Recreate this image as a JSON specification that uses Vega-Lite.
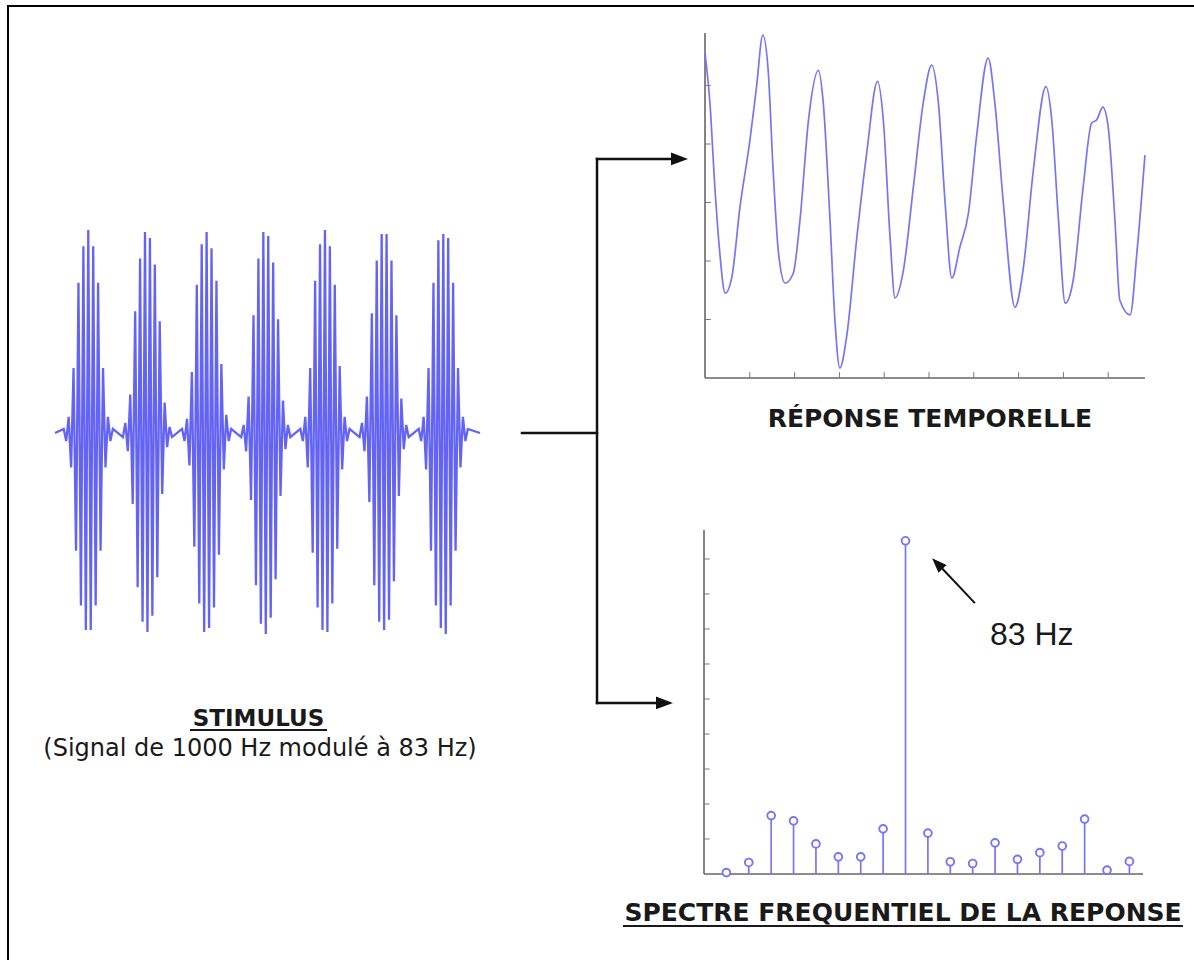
{
"$schema": "https://vega.github.io/schema/vega-lite/v6.json",
"width": 1194, "height": 960, "padding": 0, "autosize": "none",
"background": "white",
"config": {"view": {"stroke": null}},
"datasets": {
"stimulus": [
{"time_ms":0,"amplitude":0},
{"time_ms":1.78,"amplitude":0.02},{"time_ms":2.28,"amplitude":-0.04},{"time_ms":2.78,"amplitude":0.08},{"time_ms":3.28,"amplitude":-0.17},{"time_ms":3.78,"amplitude":0.32},{"time_ms":4.28,"amplitude":-0.58},{"time_ms":4.78,"amplitude":0.74},{"time_ms":5.28,"amplitude":-0.85},{"time_ms":5.78,"amplitude":0.92},{"time_ms":6.28,"amplitude":-0.97},{"time_ms":6.78,"amplitude":1.0},{"time_ms":7.28,"amplitude":-0.97},{"time_ms":7.78,"amplitude":0.92},{"time_ms":8.28,"amplitude":-0.85},{"time_ms":8.78,"amplitude":0.74},{"time_ms":9.28,"amplitude":-0.58},{"time_ms":9.78,"amplitude":0.32},{"time_ms":10.28,"amplitude":-0.17},{"time_ms":10.78,"amplitude":0.08},{"time_ms":11.28,"amplitude":-0.04},{"time_ms":11.78,"amplitude":0.02},
{"time_ms":13.83,"amplitude":-0.02},{"time_ms":14.33,"amplitude":0.05},{"time_ms":14.83,"amplitude":-0.09},{"time_ms":15.33,"amplitude":0.19},{"time_ms":15.83,"amplitude":-0.35},{"time_ms":16.33,"amplitude":0.6},{"time_ms":16.83,"amplitude":-0.76},{"time_ms":17.33,"amplitude":0.86},{"time_ms":17.83,"amplitude":-0.93},{"time_ms":18.33,"amplitude":0.99},{"time_ms":18.83,"amplitude":-0.98},{"time_ms":19.33,"amplitude":0.96},{"time_ms":19.83,"amplitude":-0.9},{"time_ms":20.33,"amplitude":0.83},{"time_ms":20.83,"amplitude":-0.71},{"time_ms":21.33,"amplitude":0.55},{"time_ms":21.83,"amplitude":-0.3},{"time_ms":22.33,"amplitude":0.15},{"time_ms":22.83,"amplitude":-0.07},{"time_ms":23.33,"amplitude":0.03},{"time_ms":23.83,"amplitude":-0.02},
{"time_ms":25.88,"amplitude":0.02},{"time_ms":26.38,"amplitude":-0.04},{"time_ms":26.88,"amplitude":0.07},{"time_ms":27.38,"amplitude":-0.16},{"time_ms":27.88,"amplitude":0.3},{"time_ms":28.38,"amplitude":-0.56},{"time_ms":28.88,"amplitude":0.73},{"time_ms":29.38,"amplitude":-0.84},{"time_ms":29.88,"amplitude":0.93},{"time_ms":30.38,"amplitude":-0.98},{"time_ms":30.88,"amplitude":0.99},{"time_ms":31.38,"amplitude":-0.96},{"time_ms":31.88,"amplitude":0.91},{"time_ms":32.38,"amplitude":-0.86},{"time_ms":32.88,"amplitude":0.75},{"time_ms":33.38,"amplitude":-0.6},{"time_ms":33.88,"amplitude":0.34},{"time_ms":34.38,"amplitude":-0.18},{"time_ms":34.88,"amplitude":0.09},{"time_ms":35.38,"amplitude":-0.04},{"time_ms":35.88,"amplitude":0.02},
{"time_ms":37.93,"amplitude":-0.02},{"time_ms":38.43,"amplitude":0.04},{"time_ms":38.93,"amplitude":-0.09},{"time_ms":39.43,"amplitude":0.18},{"time_ms":39.93,"amplitude":-0.33},{"time_ms":40.43,"amplitude":0.58},{"time_ms":40.93,"amplitude":-0.75},{"time_ms":41.43,"amplitude":0.86},{"time_ms":41.93,"amplitude":-0.94},{"time_ms":42.43,"amplitude":0.99},{"time_ms":42.93,"amplitude":-0.99},{"time_ms":43.43,"amplitude":0.97},{"time_ms":43.93,"amplitude":-0.91},{"time_ms":44.43,"amplitude":0.84},{"time_ms":44.93,"amplitude":-0.72},{"time_ms":45.43,"amplitude":0.56},{"time_ms":45.93,"amplitude":-0.31},{"time_ms":46.43,"amplitude":0.16},{"time_ms":46.93,"amplitude":-0.08},{"time_ms":47.43,"amplitude":0.04},{"time_ms":47.93,"amplitude":-0.02},
{"time_ms":49.98,"amplitude":0.02},{"time_ms":50.48,"amplitude":-0.04},{"time_ms":50.98,"amplitude":0.08},{"time_ms":51.48,"amplitude":-0.17},{"time_ms":51.98,"amplitude":0.32},{"time_ms":52.48,"amplitude":-0.59},{"time_ms":52.98,"amplitude":0.75},{"time_ms":53.48,"amplitude":-0.86},{"time_ms":53.98,"amplitude":0.93},{"time_ms":54.48,"amplitude":-0.97},{"time_ms":54.98,"amplitude":1.0},{"time_ms":55.48,"amplitude":-0.98},{"time_ms":55.98,"amplitude":0.92},{"time_ms":56.48,"amplitude":-0.84},{"time_ms":56.98,"amplitude":0.73},{"time_ms":57.48,"amplitude":-0.57},{"time_ms":57.98,"amplitude":0.33},{"time_ms":58.48,"amplitude":-0.18},{"time_ms":58.98,"amplitude":0.08},{"time_ms":59.48,"amplitude":-0.04},{"time_ms":59.98,"amplitude":0.02},
{"time_ms":62.03,"amplitude":-0.02},{"time_ms":62.53,"amplitude":0.05},{"time_ms":63.03,"amplitude":-0.09},{"time_ms":63.53,"amplitude":0.18},{"time_ms":64.03,"amplitude":-0.34},{"time_ms":64.53,"amplitude":0.59},{"time_ms":65.03,"amplitude":-0.75},{"time_ms":65.53,"amplitude":0.85},{"time_ms":66.03,"amplitude":-0.93},{"time_ms":66.53,"amplitude":0.98},{"time_ms":67.03,"amplitude":-0.97},{"time_ms":67.53,"amplitude":0.98},{"time_ms":68.03,"amplitude":-0.92},{"time_ms":68.53,"amplitude":0.85},{"time_ms":69.03,"amplitude":-0.73},{"time_ms":69.53,"amplitude":0.58},{"time_ms":70.03,"amplitude":-0.31},{"time_ms":70.53,"amplitude":0.17},{"time_ms":71.03,"amplitude":-0.08},{"time_ms":71.53,"amplitude":0.04},{"time_ms":72.03,"amplitude":-0.02},
{"time_ms":74.08,"amplitude":0.02},{"time_ms":74.58,"amplitude":-0.04},{"time_ms":75.08,"amplitude":0.08},{"time_ms":75.58,"amplitude":-0.18},{"time_ms":76.08,"amplitude":0.32},{"time_ms":76.58,"amplitude":-0.58},{"time_ms":77.08,"amplitude":0.74},{"time_ms":77.58,"amplitude":-0.85},{"time_ms":78.08,"amplitude":0.95},{"time_ms":78.58,"amplitude":-0.96},{"time_ms":79.08,"amplitude":0.98},{"time_ms":79.58,"amplitude":-0.99},{"time_ms":80.08,"amplitude":0.96},{"time_ms":80.58,"amplitude":-0.85},{"time_ms":81.08,"amplitude":0.74},{"time_ms":81.58,"amplitude":-0.58},{"time_ms":82.08,"amplitude":0.32},{"time_ms":82.58,"amplitude":-0.17},{"time_ms":83.08,"amplitude":0.08},{"time_ms":83.58,"amplitude":-0.04},{"time_ms":84.08,"amplitude":0.02},
{"time_ms":86.56,"amplitude":0}
],
"response": [
{"time":0.0,"value":5.56},{"time":0.11,"value":4.70},{"time":0.22,"value":3.26},{"time":0.33,"value":2.14},{"time":0.45,"value":1.45},{"time":0.60,"value":1.73},{"time":0.78,"value":2.92},{"time":1.00,"value":4.05},{"time":1.15,"value":4.98},{"time":1.29,"value":5.86},
{"time":1.41,"value":5.26},{"time":1.52,"value":3.56},{"time":1.64,"value":2.14},{"time":1.79,"value":1.62},{"time":1.97,"value":1.79},{"time":2.12,"value":2.70},{"time":2.31,"value":4.41},{"time":2.53,"value":5.26},{"time":2.64,"value":4.70},{"time":2.79,"value":2.70},
{"time":2.90,"value":0.99},{"time":3.01,"value":0.17},{"time":3.16,"value":0.70},{"time":3.39,"value":2.41},{"time":3.61,"value":3.85},{"time":3.85,"value":5.07},{"time":3.98,"value":4.41},{"time":4.13,"value":2.41},{"time":4.24,"value":1.37},{"time":4.43,"value":1.85},
{"time":4.65,"value":3.26},{"time":4.87,"value":4.70},{"time":5.06,"value":5.35},{"time":5.21,"value":4.70},{"time":5.36,"value":2.99},{"time":5.51,"value":1.71},{"time":5.69,"value":2.24},{"time":5.88,"value":2.82},{"time":6.06,"value":4.12},{"time":6.32,"value":5.47},
{"time":6.47,"value":4.70},{"time":6.66,"value":2.99},{"time":6.92,"value":1.21},{"time":7.10,"value":1.85},{"time":7.33,"value":3.56},{"time":7.61,"value":4.98},{"time":7.74,"value":4.41},{"time":7.89,"value":2.70},{"time":8.04,"value":1.28},{"time":8.22,"value":1.68},
{"time":8.44,"value":3.26},{"time":8.63,"value":4.36},{"time":8.74,"value":4.41},{"time":8.88,"value":4.63},{"time":9.00,"value":4.29},{"time":9.15,"value":2.70},{"time":9.26,"value":1.33},{"time":9.49,"value":1.08},{"time":9.64,"value":2.14},{"time":9.82,"value":3.81}
],
"spectrum": [
{"harmonic":1,"magnitude":0.04},{"harmonic":2,"magnitude":0.33},{"harmonic":3,"magnitude":1.67},{"harmonic":4,"magnitude":1.52},{"harmonic":5,"magnitude":0.86},{"harmonic":6,"magnitude":0.49},{"harmonic":7,"magnitude":0.49},{"harmonic":8,"magnitude":1.29},{"harmonic":9,"magnitude":9.52},{"harmonic":10,"magnitude":1.17},
{"harmonic":11,"magnitude":0.35},{"harmonic":12,"magnitude":0.30},{"harmonic":13,"magnitude":0.89},{"harmonic":14,"magnitude":0.42},{"harmonic":15,"magnitude":0.61},{"harmonic":16,"magnitude":0.80},{"harmonic":17,"magnitude":1.57},{"harmonic":18,"magnitude":0.11},{"harmonic":19,"magnitude":0.36}
]
},
"layer": [
{"layer": [
 {"data": {"values": [{"x":-9.57,"y":2.103,"x2":231.98,"y2":2.103},{"x":-9.57,"y":2.103,"x2":-9.57,"y2":-2.596}]},
  "mark": {"type":"rule","color":"#000000","strokeWidth":2,"strokeCap":"square"},
  "encoding": {"x":{"field":"x","type":"quantitative","scale":{"domain":[-11.202,231.976],"nice":false,"zero":false},"axis":null},
   "y":{"field":"y","type":"quantitative","scale":{"domain":[-2.596,2.133],"nice":false,"zero":false},"axis":null},
   "x2":{"field":"x2"},"y2":{"field":"y2"}}},
 {"data": {"name":"stimulus"},
  "mark": {"type":"line","color":"#6464f4","strokeWidth":2.3,"strokeJoin":"miter"},
  "encoding": {"x":{"field":"time_ms","type":"quantitative","scale":{"domain":[-11.202,231.976],"nice":false,"zero":false},"axis":null},
   "y":{"field":"amplitude","type":"quantitative","scale":{"domain":[-2.596,2.133],"nice":false,"zero":false},"axis":null}}},
 {"data": {"values": [{"x":95.11,"y":0,"x2":110.39,"y2":0},{"x":110.39,"y":1.35,"x2":110.39,"y2":-1.33},{"x":110.39,"y":1.35,"x2":125.66,"y2":1.35},{"x":110.39,"y":-1.33,"x2":122.61,"y2":-1.33}]},
  "mark": {"type":"rule","color":"#111111","strokeWidth":2.5,"strokeCap":"square"},
  "encoding": {"x":{"field":"x","type":"quantitative","scale":{"domain":[-11.202,231.976],"nice":false,"zero":false},"axis":null},
   "y":{"field":"y","type":"quantitative","scale":{"domain":[-2.596,2.133],"nice":false,"zero":false},"axis":null},
   "x2":{"field":"x2"},"y2":{"field":"y2"}}},
 {"data": {"values": [{"x":127.19,"y":1.35},{"x":124.13,"y":-1.33}]},
  "mark": {"type":"point","shape":"M-1,-0.75L1,0L-1,0.75Z","filled":true,"color":"#111111","opacity":1,"size":289},
  "encoding": {"x":{"field":"x","type":"quantitative","scale":{"domain":[-11.202,231.976],"nice":false,"zero":false},"axis":null},
   "y":{"field":"y","type":"quantitative","scale":{"domain":[-2.596,2.133],"nice":false,"zero":false},"axis":null}}},
 {"data": {"values": [{"x":41.45,"y":-1.443,"label":"STIMULUS"}]},
  "mark": {"type":"text","font":"DejaVu Sans","fontWeight":"bold","fontSize":23,"align":"center","baseline":"alphabetic","color":"#1a1a1a"},
  "encoding": {"x":{"field":"x","type":"quantitative","scale":{"domain":[-11.202,231.976],"nice":false,"zero":false},"axis":null},
   "y":{"field":"y","type":"quantitative","scale":{"domain":[-2.596,2.133],"nice":false,"zero":false},"axis":null},
   "text":{"field":"label"}}},
 {"data": {"values": [{"x":27.49,"y":-1.463,"x2":55.40,"y2":-1.463}]},
  "mark": {"type":"rule","color":"#1a1a1a","strokeWidth":2},
  "encoding": {"x":{"field":"x","type":"quantitative","scale":{"domain":[-11.202,231.976],"nice":false,"zero":false},"axis":null},
   "y":{"field":"y","type":"quantitative","scale":{"domain":[-2.596,2.133],"nice":false,"zero":false},"axis":null},
   "x2":{"field":"x2"},"y2":{"field":"y2"}}},
 {"data": {"values": [{"x":41.75,"y":-1.591,"label":"(Signal de 1000 Hz modulé à 83 Hz)"}]},
  "mark": {"type":"text","font":"DejaVu Sans","fontSize":24,"align":"center","baseline":"alphabetic","color":"#1a1a1a"},
  "encoding": {"x":{"field":"x","type":"quantitative","scale":{"domain":[-11.202,231.976],"nice":false,"zero":false},"axis":null},
   "y":{"field":"y","type":"quantitative","scale":{"domain":[-2.596,2.133],"nice":false,"zero":false},"axis":null},
   "text":{"field":"label"}}}
]},
{"layer": [
 {"data": {"values": [{"x":0,"y":0,"x2":9.82,"y2":0},{"x":0,"y":0,"x2":0,"y2":5.9}]},
  "mark": {"type":"rule","color":"#666666","strokeWidth":1.6},
  "encoding": {"x":{"field":"x","type":"quantitative","scale":{"domain":[-15.737,10.915],"nice":false,"zero":false},"axis":null},
   "y":{"field":"y","type":"quantitative","scale":{"domain":[-9.949,6.462],"nice":false,"zero":false},"axis":null},
   "x2":{"field":"x2"},"y2":{"field":"y2"}}},
 {"data": {"values": [{"x":1,"y":0,"x2":1,"y2":0.1},{"x":2,"y":0,"x2":2,"y2":0.1},{"x":3,"y":0,"x2":3,"y2":0.1},{"x":4,"y":0,"x2":4,"y2":0.1},{"x":5,"y":0,"x2":5,"y2":0.1},{"x":6,"y":0,"x2":6,"y2":0.1},{"x":7,"y":0,"x2":7,"y2":0.1},{"x":8,"y":0,"x2":8,"y2":0.1},{"x":9,"y":0,"x2":9,"y2":0.1},
   {"x":0,"y":1,"x2":0.13,"y2":1},{"x":0,"y":2,"x2":0.13,"y2":2},{"x":0,"y":3,"x2":0.13,"y2":3},{"x":0,"y":4,"x2":0.13,"y2":4},{"x":0,"y":5,"x2":0.13,"y2":5}]},
  "mark": {"type":"rule","color":"#777777","strokeWidth":1},
  "encoding": {"x":{"field":"x","type":"quantitative","scale":{"domain":[-15.737,10.915],"nice":false,"zero":false},"axis":null},
   "y":{"field":"y","type":"quantitative","scale":{"domain":[-9.949,6.462],"nice":false,"zero":false},"axis":null},
   "x2":{"field":"x2"},"y2":{"field":"y2"}}},
 {"data": {"name":"response"},
  "mark": {"type":"line","color":"#7676f4","strokeWidth":1.7,"interpolate":"monotone"},
  "encoding": {"x":{"field":"time","type":"quantitative","scale":{"domain":[-15.737,10.915],"nice":false,"zero":false},"axis":null},
   "y":{"field":"value","type":"quantitative","scale":{"domain":[-9.949,6.462],"nice":false,"zero":false},"axis":null}}},
 {"data": {"values": [{"x":5.02,"y":-0.838,"label":"RÉPONSE TEMPORELLE"}]},
  "mark": {"type":"text","font":"DejaVu Sans","fontWeight":"bold","fontSize":25,"align":"center","baseline":"alphabetic","color":"#1a1a1a"},
  "encoding": {"x":{"field":"x","type":"quantitative","scale":{"domain":[-15.737,10.915],"nice":false,"zero":false},"axis":null},
   "y":{"field":"y","type":"quantitative","scale":{"domain":[-9.949,6.462],"nice":false,"zero":false},"axis":null},
   "text":{"field":"label"}}}
]},
{"layer": [
 {"data": {"values": [{"x":0,"y":0,"x2":19.61,"y2":0},{"x":0,"y":0,"x2":0,"y2":9.83}]},
  "mark": {"type":"rule","color":"#666666","strokeWidth":1.6},
  "encoding": {"x":{"field":"x","type":"quantitative","scale":{"domain":[-31.443,21.885],"nice":false,"zero":false},"axis":null},
   "y":{"field":"y","type":"quantitative","scale":{"domain":[-2.457,24.971],"nice":false,"zero":false},"axis":null},
   "x2":{"field":"x2"},"y2":{"field":"y2"}}},
 {"data": {"values": [{"x":0,"y":1,"x2":0.25,"y2":1},{"x":0,"y":2,"x2":0.25,"y2":2},{"x":0,"y":3,"x2":0.25,"y2":3},{"x":0,"y":4,"x2":0.25,"y2":4},{"x":0,"y":5,"x2":0.25,"y2":5},{"x":0,"y":6,"x2":0.25,"y2":6},{"x":0,"y":7,"x2":0.25,"y2":7},{"x":0,"y":8,"x2":0.25,"y2":8},{"x":0,"y":9,"x2":0.25,"y2":9}]},
  "mark": {"type":"rule","color":"#777777","strokeWidth":1},
  "encoding": {"x":{"field":"x","type":"quantitative","scale":{"domain":[-31.443,21.885],"nice":false,"zero":false},"axis":null},
   "y":{"field":"y","type":"quantitative","scale":{"domain":[-2.457,24.971],"nice":false,"zero":false},"axis":null},
   "x2":{"field":"x2"},"y2":{"field":"y2"}}},
 {"data": {"name":"spectrum"},
  "mark": {"type":"rule","color":"#7676f4","strokeWidth":1.7},
  "encoding": {"x":{"field":"harmonic","type":"quantitative","scale":{"domain":[-31.443,21.885],"nice":false,"zero":false},"axis":null},
   "y":{"field":"magnitude","type":"quantitative","scale":{"domain":[-2.457,24.971],"nice":false,"zero":false},"axis":null},
   "y2":{"datum":0}}},
 {"data": {"name":"spectrum"},
  "mark": {"type":"point","shape":"circle","filled":false,"fill":"white","fillOpacity":1,"stroke":"#7676f4","strokeWidth":1.9,"opacity":1,"size":60},
  "encoding": {"x":{"field":"harmonic","type":"quantitative","scale":{"domain":[-31.443,21.885],"nice":false,"zero":false},"axis":null},
   "y":{"field":"magnitude","type":"quantitative","scale":{"domain":[-2.457,24.971],"nice":false,"zero":false},"axis":null}}},
 {"data": {"values": [{"x":12.10,"y":7.74,"x2":10.65,"y2":8.72}]},
  "mark": {"type":"rule","color":"#111111","strokeWidth":2},
  "encoding": {"x":{"field":"x","type":"quantitative","scale":{"domain":[-31.443,21.885],"nice":false,"zero":false},"axis":null},
   "y":{"field":"y","type":"quantitative","scale":{"domain":[-2.457,24.971],"nice":false,"zero":false},"axis":null},
   "x2":{"field":"x2"},"y2":{"field":"y2"}}},
 {"data": {"values": [{"x":10.42,"y":8.87}]},
  "mark": {"type":"point","shape":"M-1,-0.75L1,0L-1,0.75Z","filled":true,"color":"#111111","opacity":1,"size":225,"angle":226},
  "encoding": {"x":{"field":"x","type":"quantitative","scale":{"domain":[-31.443,21.885],"nice":false,"zero":false},"axis":null},
   "y":{"field":"y","type":"quantitative","scale":{"domain":[-2.457,24.971],"nice":false,"zero":false},"axis":null}}},
 {"data": {"values": [{"x":12.77,"y":6.54,"label":"83 Hz"}]},
  "mark": {"type":"text","font":"Liberation Sans","fontSize":32,"align":"left","baseline":"alphabetic","color":"#1a1a1a"},
  "encoding": {"x":{"field":"x","type":"quantitative","scale":{"domain":[-31.443,21.885],"nice":false,"zero":false},"axis":null},
   "y":{"field":"y","type":"quantitative","scale":{"domain":[-2.457,24.971],"nice":false,"zero":false},"axis":null},
   "text":{"field":"label"}}},
 {"data": {"values": [{"x":8.89,"y":-1.343,"label":"SPECTRE FREQUENTIEL DE LA REPONSE"}]},
  "mark": {"type":"text","font":"DejaVu Sans","fontWeight":"bold","fontSize":25,"align":"center","baseline":"alphabetic","color":"#1a1a1a"},
  "encoding": {"x":{"field":"x","type":"quantitative","scale":{"domain":[-31.443,21.885],"nice":false,"zero":false},"axis":null},
   "y":{"field":"y","type":"quantitative","scale":{"domain":[-2.457,24.971],"nice":false,"zero":false},"axis":null},
   "text":{"field":"label"}}},
 {"data": {"values": [{"x":-3.62,"y":-1.486,"x2":21.39,"y2":-1.486}]},
  "mark": {"type":"rule","color":"#1a1a1a","strokeWidth":2},
  "encoding": {"x":{"field":"x","type":"quantitative","scale":{"domain":[-31.443,21.885],"nice":false,"zero":false},"axis":null},
   "y":{"field":"y","type":"quantitative","scale":{"domain":[-2.457,24.971],"nice":false,"zero":false},"axis":null},
   "x2":{"field":"x2"},"y2":{"field":"y2"}}}
]}
],
"resolve": {"scale": {"x": "independent", "y": "independent"}}
}
